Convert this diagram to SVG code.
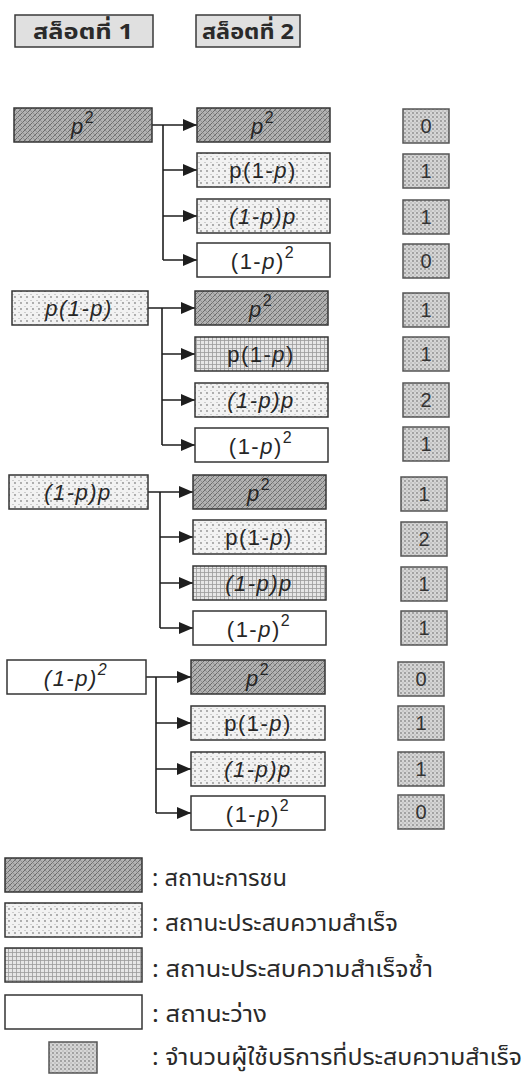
<svg xmlns="http://www.w3.org/2000/svg" width="528" height="1076" viewBox="0 0 528 1076">
  <defs>
    <!-- collision state: grey cross-hatch -->
    <pattern id="pCol" width="5" height="5" patternUnits="userSpaceOnUse">
      <rect width="5" height="5" fill="#b2b2b2"/>
      <path d="M-1,6 L6,-1 M-1,1 L1,-1 M4,6 L6,4" stroke="#606060" stroke-width="0.85"/>
      <path d="M-1,-1 L6,6" stroke="#828282" stroke-width="0.65"/>
    </pattern>
    <!-- success state: light dots -->
    <pattern id="pSuc" width="6" height="6" patternUnits="userSpaceOnUse">
      <rect width="6" height="6" fill="#f2f2f2"/>
      <circle cx="3" cy="3" r="0.9" fill="#8e8e8e"/>
      <path d="M0,0.5 H2" stroke="#c4c4c4" stroke-width="0.8"/>
    </pattern>
    <!-- repeated success: fine grid -->
    <pattern id="pRep" width="4" height="4" patternUnits="userSpaceOnUse">
      <rect width="4" height="4" fill="#e6e6e6"/>
      <path d="M0,0.5 H4 M0.5,0 V4" stroke="#9a9a9a" stroke-width="0.8"/>
    </pattern>
    <!-- success counter cells -->
    <pattern id="pCnt" width="4" height="4" patternUnits="userSpaceOnUse">
      <rect width="4" height="4" fill="#d6d6d6"/>
      <circle cx="1" cy="1" r="0.9" fill="#8a8a8a"/>
      <circle cx="3" cy="3" r="0.7" fill="#a8a8a8"/>
    </pattern>
    <marker id="arr" markerUnits="userSpaceOnUse" markerWidth="14" markerHeight="12" refX="14" refY="6" orient="auto">
      <path d="M0,0 L14,6 L0,12 Z" fill="#1e1e1e"/>
    </marker>
    <style>
      .box { stroke: #353535; stroke-width: 1.5; }
      .col { fill: url(#pCol); }
      .suc { fill: url(#pSuc); }
      .rep { fill: url(#pRep); }
      .emp { fill: #ffffff; }
      .cnt { fill: url(#pCnt); stroke: #555; stroke-width: 1.5; }
      .hdr { fill: #e0e0e0; stroke: #3a3a3a; stroke-width: 1.5; }
      .lbl { font-family: "Liberation Sans", Arial, sans-serif; font-size: 22px; letter-spacing: 1.5px; fill: #262626; text-anchor: middle; }
      .it { font-style: italic; }
      .sup { font-size: 16px; }
      .num { font-family: "Liberation Sans", Arial, sans-serif; font-size: 20px; fill: #333; text-anchor: middle; }
      .th { font-family: "Noto Sans Thai", "Noto Sans", "DejaVu Sans", sans-serif; fill: #2a2a2a; }
      .thh { font-size: 22px; font-weight: bold; text-anchor: middle; }
      .thl { font-size: 23px; }
      .wire { fill: none; stroke: #1e1e1e; stroke-width: 1.6; }
    </style>
  </defs>

  <rect width="528" height="1076" fill="#ffffff"/>

  <!-- column headers -->
  <g id="slot1-header">
    <rect class="hdr" x="15" y="15" width="138" height="32"/>
    <text class="th thh" x="83" y="39" textLength="100" lengthAdjust="spacingAndGlyphs">สล็อตที่ 1</text>
  </g>
  <g id="slot2-header">
    <rect class="hdr" x="196" y="15" width="104" height="32"/>
    <text class="th thh" x="248" y="39" textLength="92" lengthAdjust="spacingAndGlyphs">สล็อตที่ 2</text>
  </g>

  <!-- connectors -->
  <g id="connectors">
    <!-- group 1 -->
    <path class="wire" d="M152,125 H197" marker-end="url(#arr)"/>
    <path class="wire" d="M163,125 V260"/>
    <path class="wire" d="M163,170 H197" marker-end="url(#arr)"/>
    <path class="wire" d="M163,216 H197" marker-end="url(#arr)"/>
    <path class="wire" d="M163,260 H197" marker-end="url(#arr)"/>
    <!-- group 2 -->
    <path class="wire" d="M148,308 H195" marker-end="url(#arr)"/>
    <path class="wire" d="M162,308 V445"/>
    <path class="wire" d="M162,354 H195" marker-end="url(#arr)"/>
    <path class="wire" d="M162,400 H195" marker-end="url(#arr)"/>
    <path class="wire" d="M162,445 H195" marker-end="url(#arr)"/>
    <!-- group 3 -->
    <path class="wire" d="M148,492 H193" marker-end="url(#arr)"/>
    <path class="wire" d="M160,492 V628"/>
    <path class="wire" d="M160,537 H193" marker-end="url(#arr)"/>
    <path class="wire" d="M160,583 H193" marker-end="url(#arr)"/>
    <path class="wire" d="M160,628 H193" marker-end="url(#arr)"/>
    <!-- group 4 -->
    <path class="wire" d="M146,677 H191" marker-end="url(#arr)"/>
    <path class="wire" d="M156,677 V813"/>
    <path class="wire" d="M156,723 H191" marker-end="url(#arr)"/>
    <path class="wire" d="M156,769 H191" marker-end="url(#arr)"/>
    <path class="wire" d="M156,813 H191" marker-end="url(#arr)"/>
  </g>

  <!-- group 1: slot 1 = p^2 -->
  <g id="g1-src">
    <rect class="box col" x="14" y="108" width="138" height="34"/>
    <text class="lbl" x="83" y="134"><tspan class="it">p</tspan><tspan class="sup" dy="-11">2</tspan></text>
  </g>
  <g id="g1-r1">
    <rect class="box col" x="197" y="108" width="133" height="34"/>
    <text class="lbl" x="263" y="134"><tspan class="it">p</tspan><tspan class="sup" dy="-11">2</tspan></text>
  </g>
  <g id="g1-r2">
    <rect class="box suc" x="197" y="153" width="133" height="34"/>
    <text class="lbl" x="263" y="178">p(1-<tspan class="it">p</tspan>)</text>
  </g>
  <g id="g1-r3">
    <rect class="box suc" x="197" y="199" width="133" height="34"/>
    <text class="lbl it" x="263" y="224">(1-p)p</text>
  </g>
  <g id="g1-r4">
    <rect class="box emp" x="197" y="243" width="133" height="34"/>
    <text class="lbl" x="263" y="269">(1-<tspan class="it">p</tspan>)<tspan class="sup" dy="-11">2</tspan></text>
  </g>
  <g id="g1-c1"><rect class="cnt" x="403" y="109" width="46" height="34"/><text class="num" x="426" y="133">0</text></g>
  <g id="g1-c2"><rect class="cnt" x="403" y="154" width="46" height="34"/><text class="num" x="426" y="178">1</text></g>
  <g id="g1-c3"><rect class="cnt" x="403" y="200" width="46" height="34"/><text class="num" x="426" y="224">1</text></g>
  <g id="g1-c4"><rect class="cnt" x="403" y="244" width="46" height="34"/><text class="num" x="426" y="268">0</text></g>

  <!-- group 2: slot 1 = p(1-p) -->
  <g id="g2-src">
    <rect class="box suc" x="12" y="291" width="136" height="34"/>
    <text class="lbl it" x="79" y="316">p(1-p)</text>
  </g>
  <g id="g2-r1">
    <rect class="box col" x="195" y="291" width="133" height="34"/>
    <text class="lbl" x="261" y="317"><tspan class="it">p</tspan><tspan class="sup" dy="-11">2</tspan></text>
  </g>
  <g id="g2-r2">
    <rect class="box rep" x="195" y="337" width="133" height="34"/>
    <text class="lbl" x="261" y="362">p(1-<tspan class="it">p</tspan>)</text>
  </g>
  <g id="g2-r3">
    <rect class="box suc" x="195" y="383" width="133" height="34"/>
    <text class="lbl it" x="261" y="408">(1-p)p</text>
  </g>
  <g id="g2-r4">
    <rect class="box emp" x="195" y="428" width="133" height="34"/>
    <text class="lbl" x="261" y="454">(1-<tspan class="it">p</tspan>)<tspan class="sup" dy="-11">2</tspan></text>
  </g>
  <g id="g2-c1"><rect class="cnt" x="403" y="293" width="46" height="34"/><text class="num" x="426" y="317">1</text></g>
  <g id="g2-c2"><rect class="cnt" x="403" y="337" width="46" height="34"/><text class="num" x="426" y="361">1</text></g>
  <g id="g2-c3"><rect class="cnt" x="403" y="383" width="46" height="34"/><text class="num" x="426" y="407">2</text></g>
  <g id="g2-c4"><rect class="cnt" x="403" y="427" width="46" height="34"/><text class="num" x="426" y="451">1</text></g>

  <!-- group 3: slot 1 = (1-p)p -->
  <g id="g3-src">
    <rect class="box suc" x="9" y="475" width="139" height="34"/>
    <text class="lbl it" x="78" y="500">(1-p)p</text>
  </g>
  <g id="g3-r1">
    <rect class="box col" x="193" y="475" width="133" height="34"/>
    <text class="lbl" x="259" y="501"><tspan class="it">p</tspan><tspan class="sup" dy="-11">2</tspan></text>
  </g>
  <g id="g3-r2">
    <rect class="box suc" x="193" y="520" width="133" height="34"/>
    <text class="lbl" x="259" y="545">p(1-<tspan class="it">p</tspan>)</text>
  </g>
  <g id="g3-r3">
    <rect class="box rep" x="193" y="566" width="133" height="34"/>
    <text class="lbl it" x="259" y="591">(1-p)p</text>
  </g>
  <g id="g3-r4">
    <rect class="box emp" x="193" y="611" width="133" height="34"/>
    <text class="lbl" x="259" y="637">(1-<tspan class="it">p</tspan>)<tspan class="sup" dy="-11">2</tspan></text>
  </g>
  <g id="g3-c1"><rect class="cnt" x="401" y="477" width="46" height="34"/><text class="num" x="424" y="501">1</text></g>
  <g id="g3-c2"><rect class="cnt" x="401" y="522" width="46" height="34"/><text class="num" x="424" y="546">2</text></g>
  <g id="g3-c3"><rect class="cnt" x="401" y="567" width="46" height="34"/><text class="num" x="424" y="591">1</text></g>
  <g id="g3-c4"><rect class="cnt" x="401" y="611" width="46" height="34"/><text class="num" x="424" y="635">1</text></g>

  <!-- group 4: slot 1 = (1-p)^2 -->
  <g id="g4-src">
    <rect class="box emp" x="7" y="660" width="139" height="34"/>
    <text class="lbl it" x="76" y="686">(1-p)<tspan class="sup" dy="-11">2</tspan></text>
  </g>
  <g id="g4-r1">
    <rect class="box col" x="191" y="660" width="134" height="34"/>
    <text class="lbl" x="258" y="686"><tspan class="it">p</tspan><tspan class="sup" dy="-11">2</tspan></text>
  </g>
  <g id="g4-r2">
    <rect class="box suc" x="191" y="706" width="134" height="34"/>
    <text class="lbl" x="258" y="731">p(1-<tspan class="it">p</tspan>)</text>
  </g>
  <g id="g4-r3">
    <rect class="box suc" x="191" y="752" width="134" height="34"/>
    <text class="lbl it" x="258" y="777">(1-p)p</text>
  </g>
  <g id="g4-r4">
    <rect class="box emp" x="191" y="796" width="134" height="34"/>
    <text class="lbl" x="258" y="822">(1-<tspan class="it">p</tspan>)<tspan class="sup" dy="-11">2</tspan></text>
  </g>
  <g id="g4-c1"><rect class="cnt" x="398" y="662" width="46" height="34"/><text class="num" x="421" y="686">0</text></g>
  <g id="g4-c2"><rect class="cnt" x="398" y="706" width="46" height="34"/><text class="num" x="421" y="730">1</text></g>
  <g id="g4-c3"><rect class="cnt" x="398" y="752" width="46" height="34"/><text class="num" x="421" y="776">1</text></g>
  <g id="g4-c4"><rect class="cnt" x="398" y="795" width="46" height="34"/><text class="num" x="421" y="819">0</text></g>

  <!-- legend -->
  <g id="legend-collision">
    <rect class="box col" x="5" y="858" width="137" height="34"/>
    <text class="th thl" x="152" y="886" textLength="135" lengthAdjust="spacingAndGlyphs">: สถานะการชน</text>
  </g>
  <g id="legend-success">
    <rect class="box suc" x="5" y="903" width="137" height="34"/>
    <text class="th thl" x="152" y="931" textLength="246" lengthAdjust="spacingAndGlyphs">: สถานะประสบความสำเร็จ</text>
  </g>
  <g id="legend-repeat">
    <rect class="box rep" x="5" y="948" width="137" height="34"/>
    <text class="th thl" x="152" y="977" textLength="281" lengthAdjust="spacingAndGlyphs">: สถานะประสบความสำเร็จซ้ำ</text>
  </g>
  <g id="legend-empty">
    <rect class="box emp" x="5" y="995" width="137" height="34"/>
    <text class="th thl" x="152" y="1022" textLength="115" lengthAdjust="spacingAndGlyphs">: สถานะว่าง</text>
  </g>
  <g id="legend-count">
    <rect class="cnt" x="49" y="1042" width="48" height="31"/>
    <text class="th thl" x="152" y="1065" textLength="370" lengthAdjust="spacingAndGlyphs">: จำนวนผู้ใช้บริการที่ประสบความสำเร็จ</text>
  </g>
</svg>
